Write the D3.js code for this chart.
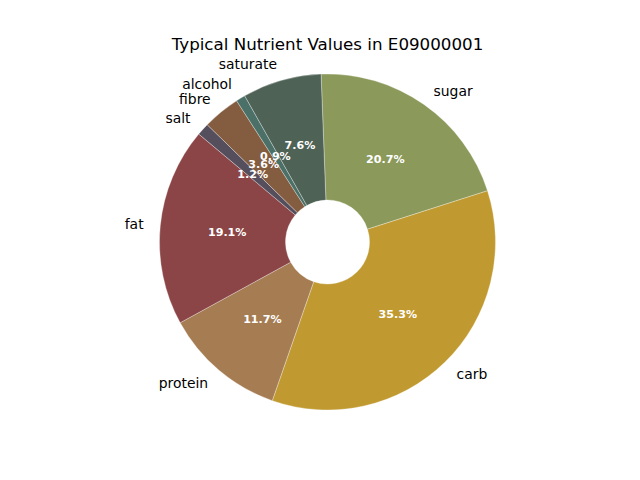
<!DOCTYPE html>
<html>
<head>
  <script src="https://d3js.org/d3.v7.min.js"></script>
  <style>
    body { margin: 0; background: #fff; }
    text { font-family: "DejaVu Sans", sans-serif; }
  </style>
</head>
<body>
<div id="chart"></div>
<script>
var nutrients = ["sugar", "carb", "protein", "fat", "salt", "fibre", "alcohol", "saturate"];
var shares = [20.7, 35.3, 11.7, 19.1, 1.2, 3.6, 0.9, 7.6];
var colours = ["#8b9a5b", "#c09a30", "#a67c52", "#8b4546", "#554e5c", "#845c40", "#4a7068", "#4f6256"];
var pctText = ["20.7%", "35.3%", "11.7%", "19.1%", "1.2%", "3.6%", "0.9%", "7.6%"];
var title = "Typical Nutrient Values in E09000001";

var width = 640, height = 480;
var cx = 327.5, cy = 242;
var radius = 168;
var hole = 42;

var svg = d3.select("#chart").append("svg")
  .attr("width", width)
  .attr("height", height);

svg.append("text")
  .attr("x", cx)
  .attr("y", 50)
  .attr("text-anchor", "middle")
  .style("font-size", "16.7px")
  .text(title);

var start = -2.2 * Math.PI / 180;
var pie = d3.pie().sort(null).startAngle(start).endAngle(start + 2 * Math.PI);
var arcs = pie(shares);

var arc = d3.arc().innerRadius(hole).outerRadius(radius);

var g = svg.append("g").attr("transform", "translate(" + cx + "," + cy + ")");

g.selectAll("path.slice")
  .data(arcs)
  .enter().append("path")
  .attr("class", "slice")
  .attr("d", arc)
  .attr("fill", function(d, i) { return colours[i]; })
  .attr("stroke", "#ffffff")
  .attr("stroke-opacity", 0.45)
  .attr("stroke-width", 0.7);

function pos(d, r) {
  var a = (d.startAngle + d.endAngle) / 2;
  return [Math.sin(a) * r, -Math.cos(a) * r];
}

g.selectAll("text.name")
  .data(arcs)
  .enter().append("text")
  .attr("class", "name")
  .attr("x", function(d) { return pos(d, radius * 1.1)[0]; })
  .attr("y", function(d) { return pos(d, radius * 1.1)[1]; })
  .attr("dy", "0.36em")
  .attr("text-anchor", function(d) { return pos(d, 1)[0] > 0 ? "start" : "end"; })
  .style("font-size", "13.9px")
  .text(function(d, i) { return nutrients[i]; });

g.selectAll("text.pct")
  .data(arcs)
  .enter().append("text")
  .attr("class", "pct")
  .attr("x", function(d) { return pos(d, radius * 0.6)[0]; })
  .attr("y", function(d) { return pos(d, radius * 0.6)[1]; })
  .attr("dy", "0.36em")
  .attr("text-anchor", "middle")
  .attr("fill", "#ffffff")
  .style("font-size", "11.1px")
  .style("font-weight", "bold")
  .text(function(d, i) { return pctText[i]; });
</script>
</body>
</html>
